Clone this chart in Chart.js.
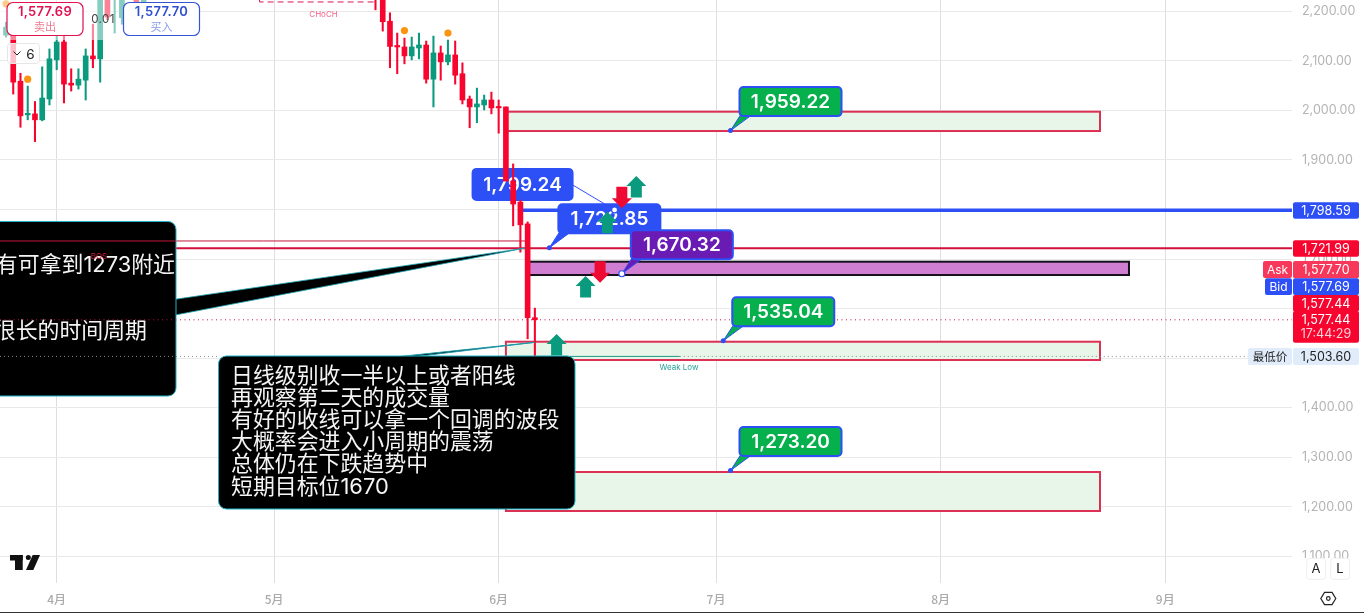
<!DOCTYPE html>
<html>
<head>
<meta charset="utf-8">
<style>
  html, body { margin: 0; padding: 0; background: #fff; overflow: hidden; }
  canvas { display: block; }
</style>
<script src="https://cdn.jsdelivr.net/npm/chart.js@4"></script>
</head>
<body>
<canvas id="priceChart" width="1364" height="613"></canvas>
<script>
// x values are days counted from 1 April
const monthDays = [0, 30, 61, 91, 122, 153];
const monthLabels = ['4月', '5月', '6月', '7月', '8月', '9月'];

const candleDays = [-7, -6, -5, -4, -3, -2, -1, 0, 1, 2, 3, 4, 5, 6, 7, 8, 9, 11, 12,
  44, 45, 46, 47, 48, 49, 50, 51, 52, 53, 54, 55, 56, 57, 58, 59, 60, 61, 62, 63, 64, 65, 66];
const candleOpen = [2152, 2166, 2059, 1991, 1993, 1981, 2023, 2102, 2138, 2055, 2051, 2061, 2110, 2104, 2240, 2230, 2187, 2250, 2217,
  2240, 2230, 2180, 2130, 2128, 2110, 2126, 2132, 2063, 2116, 2098, 2112, 2074, 2023, 2007, 2011, 2021, 2007, 2007, 1857.5, 1815, 1771, 1581.7];
const candleHigh = [2178, 2182, 2075, 2049, 2018, 2088, 2124, 2156, 2156, 2084, 2084, 2124, 2174, 2240, 2250, 2260, 2250, 2260, 2260,
  2250, 2240, 2197, 2156, 2146, 2148, 2156, 2140, 2150, 2130, 2142, 2140, 2096, 2029, 2045, 2031, 2037, 2021, 2007, 1892, 1819, 1775, 1601];
const candleLow = [2148, 2033, 1966, 1981, 1937, 1979, 2011, 2082, 2015, 2039, 2043, 2021, 2086, 2057, 2183, 2156, 2174, 2215, 2215,
  2203, 2160, 2086, 2074, 2094, 2102, 2104, 2055, 2007, 2061, 2092, 2053, 2013, 1965, 1975, 2001, 1993, 1954, 1857.5, 1767, 1714, 1539, 1503.6];
const candleClose = [2168, 2057, 1989, 1993, 1981, 2025, 2104, 2138, 2053, 2051, 2063, 2110, 2104, 2235, 2188.5, 2250, 2240, 2217, 2250,
  2230, 2179, 2129, 2128, 2110, 2128, 2132, 2063, 2116, 2098, 2112, 2071, 2021, 2007, 2013, 2021, 2005, 2005, 1857.5, 1811, 1769, 1581.7, 1577.44];

const dotDays = [-7, -4, 48, 54];
const dotPrices = [2215, 2063, 2161, 2156];

const zoneLeft = [62, 62, 62, 65];
const zoneRight = [144, 144, 144, 148];
const zoneHigh = [1997.4, 1533.2, 1270.3, 1694.7];
const zoneLow = [1958.4, 1496.3, 1191.6, 1667.8];

const calloutValues = [1799.24, 1722.85, 1670.32, 1535.04, 1959.22, 1273.20];
const calloutDays = [77, 68, 78, 92, 93, 93];
const calloutColors = ['#2d50f6', '#2d50f6', '#6a1bb4', '#06b04c', '#06b04c', '#06b04c'];

const arrowDays = [80, 78, 76, 75, 73, 69];
const arrowPrices = [1867.6, 1802.4, 1795.6, 1652.3, 1665.8, 1548.8];
const arrowUp = [true, false, true, false, true, true];

const bluePrice = 1798.59;
const redPrice = 1721.99;
const bosPrice = 1736.5;
const lastPrice = 1577.44;
const lowPrice = 1503.6;
const chochPrice = 2218.8;

const noteOneLines = ['有可拿到1273附近', '', '', '很长的时间周期'];
const noteTwoLines = ['日线级别收一半以上或者阳线', '再观察第二天的成交量', '有好的收线可以拿一个回调的波段', '大概率会进入小周期的震荡', '总体仍在下跌趋势中', '短期目标位1670'];

const Y_MIN = 1046.3;
const Y_MAX = 2222.8;

const UI_FONT = '"Inter", "Noto Sans CJK SC", sans-serif';
const CJK_FONT = '"Noto Sans CJK SC", sans-serif';
const RED = '#f7052f';
const GREEN = '#0a9a7e';
const BLUE = '#2d50f6';
const ZONE_RED = '#dc3155';

const isUp = candleClose.map((c, i) => c >= candleOpen[i]);
const candleColors = isUp.map((up) => (up ? GREEN : RED));

function text(ctx, str, x, y, font, color, align, spacing) {
  ctx.font = font;
  ctx.fillStyle = color;
  ctx.textAlign = align || 'center';
  ctx.textBaseline = 'middle';
  ctx.letterSpacing = spacing || '0px';
  ctx.fillText(str, x, y);
  ctx.letterSpacing = '0px';
}

function roundBox(ctx, x, y, w, h, r, fill, stroke, lineWidth) {
  ctx.beginPath();
  ctx.roundRect(x, y, w, h, r);
  if (fill) {
    ctx.fillStyle = fill;
    ctx.fill();
  }
  if (stroke) {
    ctx.strokeStyle = stroke;
    ctx.lineWidth = lineWidth || 1;
    ctx.stroke();
  }
}

function hLine(ctx, x1, x2, y, color, width, dash) {
  ctx.beginPath();
  ctx.setLineDash(dash || []);
  ctx.strokeStyle = color;
  ctx.lineWidth = width;
  ctx.moveTo(x1, y);
  ctx.lineTo(x2, y);
  ctx.stroke();
  ctx.setLineDash([]);
}

function drawCallout(ctx, i, X, Y) {
  const tipX = X(calloutDays[i]);
  const tipY = Y(calloutValues[i]);
  const color = calloutColors[i];
  const value = calloutValues[i].toLocaleString('en-US', { minimumFractionDigits: 2 });
  const wide = i === 0;
  const left = wide ? tipX - 142 : tipX + 9;
  const top = wide ? tipY - 41 : tipY - 43.5;
  const w = wide ? 100 : 102;
  const h = wide ? 31 : 29;

  if (wide) {
    ctx.beginPath();
    ctx.moveTo(left + w, top + 16);
    ctx.lineTo(tipX, tipY);
    ctx.strokeStyle = BLUE;
    ctx.lineWidth = 1;
    ctx.stroke();
  } else {
    ctx.beginPath();
    ctx.moveTo(left + 1, top + h - 1);
    ctx.lineTo(left + 12, top + h - 1);
    ctx.lineTo(tipX, tipY);
    ctx.closePath();
    ctx.fillStyle = color;
    ctx.fill();
    ctx.strokeStyle = BLUE;
    ctx.lineWidth = 1;
    ctx.stroke();
  }
  roundBox(ctx, left, top, w, h, 4, color, BLUE, 2);
  text(ctx, value, left + w / 2, top + h / 2 + 0.5, '600 19px ' + UI_FONT, '#fff');

  ctx.beginPath();
  ctx.arc(tipX, tipY, wide || i === 2 ? 3 : 2.5, 0, Math.PI * 2);
  ctx.fillStyle = wide || i === 2 ? '#fff' : BLUE;
  ctx.fill();
  if (wide || i === 2) {
    ctx.strokeStyle = BLUE;
    ctx.lineWidth = 1.2;
    ctx.stroke();
  }
}

function drawArrow(ctx, x, tipY, up) {
  const s = up ? 1 : -1;
  ctx.beginPath();
  ctx.moveTo(x, tipY);
  ctx.lineTo(x + 10, tipY + s * 10);
  ctx.lineTo(x + 5.5, tipY + s * 10);
  ctx.lineTo(x + 5.5, tipY + s * 21.5);
  ctx.lineTo(x - 5.5, tipY + s * 21.5);
  ctx.lineTo(x - 5.5, tipY + s * 10);
  ctx.lineTo(x - 10, tipY + s * 10);
  ctx.closePath();
  ctx.fillStyle = up ? GREEN : '#ee0a33';
  ctx.fill();
}

function priceTag(ctx, y, h, fill, str, color) {
  roundBox(ctx, 1293, y, 66, h, 2, fill);
  text(ctx, str, 1326, y + h / 2 + 0.5, '12.5px ' + UI_FONT, color || '#fff', 'center');
}

const overlayPlugin = {
  id: 'overlay',
  beforeDatasetsDraw(chart) {
    const ctx = chart.ctx;
    const X = (v) => chart.scales.x.getPixelForValue(v);
    const Y = (v) => chart.scales.y.getPixelForValue(v);
    const right = chart.chartArea.right;

    // chart drawings that sit under the candles
    hLine(ctx, X(64), right, Y(bluePrice), BLUE, 3.5);
    hLine(ctx, 0, right, Y(redPrice), '#d30f3c', 2);
    hLine(ctx, 0, X(65), Y(bosPrice), '#c2183c', 1);

    zoneLeft.forEach((d, i) => {
      const x = X(d);
      const w = X(zoneRight[i]) - x;
      const y = Y(zoneHigh[i]);
      const h = Y(zoneLow[i]) - y;
      const pink = i === 3;
      ctx.fillStyle = pink ? '#d07ed2' : '#e8f5e9';
      ctx.fillRect(x, y, w, h);
      ctx.strokeStyle = pink ? '#15101a' : ZONE_RED;
      ctx.lineWidth = 2;
      ctx.strokeRect(x, y, w, h);
    });

    hLine(ctx, X(66), X(86), Y(lowPrice), '#1f9a8a', 1);
    hLine(ctx, X(86), 1248, Y(lowPrice), '#8a8a8a', 1, [1, 3]);
    hLine(ctx, 0, right, Y(lastPrice), '#c8103c', 1, [1, 3.5]);
    text(ctx, 'Weak Low', 679, 368, '8px ' + UI_FONT, '#2aa198');

    // CHoCH bracket running off the top edge
    ctx.beginPath();
    ctx.setLineDash([6, 4]);
    ctx.moveTo(X(28), 0);
    ctx.lineTo(X(28), Y(chochPrice));
    ctx.lineTo(X(44), Y(chochPrice));
    ctx.strokeStyle = '#d6185a';
    ctx.lineWidth = 1;
    ctx.stroke();
    ctx.setLineDash([]);
    text(ctx, 'CHoCH', 323.5, 14.5, '8px ' + UI_FONT, '#f0608a');

    [1, 2, 3, 4, 5, 0].forEach((i) => drawCallout(ctx, i, X, Y));
  },
  afterDatasetsDraw(chart) {
    const ctx = chart.ctx;
    const X = (v) => chart.scales.x.getPixelForValue(v);
    const Y = (v) => chart.scales.y.getPixelForValue(v);

    arrowDays.forEach((d, i) => drawArrow(ctx, X(d), Y(arrowPrices[i]), arrowUp[i]));

    // the toolbar washes out whatever is behind it
    ctx.fillStyle = 'rgba(255,255,255,0.5)';
    ctx.fillRect(0, 0, 150, 40);

    // left note with its pointer
    const tipOneX = X(64.6);
    const tipOneY = Y(redPrice);
    ctx.beginPath();
    ctx.moveTo(170, 300);
    ctx.lineTo(tipOneX, tipOneY);
    ctx.lineTo(170, 316);
    ctx.closePath();
    ctx.fillStyle = '#000';
    ctx.fill();
    ctx.strokeStyle = '#1fa7b5';
    ctx.lineWidth = 0.8;
    ctx.stroke();
    roundBox(ctx, -20, 221.5, 196, 174.5, 8, '#000', '#1fb4c4', 1);
    noteOneLines.forEach((line, i) => {
      const endX = i === 0 ? 175 : 147;
      text(ctx, line, endX, 265 + i * 22, '21.9px ' + UI_FONT, '#f4f4f4', 'right');
    });
    hLine(ctx, 0, 176, Y(bosPrice), '#c2183c', 1);
    text(ctx, 'BOS', 99, 257, '8px ' + UI_FONT, '#d01a3a');
    hLine(ctx, 0, 176, Y(lastPrice), '#c8103c', 1, [1, 3.5]);
    hLine(ctx, 0, 218, Y(lowPrice), '#8a8a8a', 1, [1, 3]);

    // lower note with its pointer
    const tipTwoX = X(66);
    const tipTwoY = Y(1532);
    ctx.beginPath();
    ctx.moveTo(395, 357);
    ctx.lineTo(tipTwoX, tipTwoY);
    ctx.lineTo(412, 357);
    ctx.closePath();
    ctx.fillStyle = '#000';
    ctx.fill();
    ctx.strokeStyle = '#1f9aa8';
    ctx.lineWidth = 1;
    ctx.stroke();
    roundBox(ctx, 218.5, 356, 356.5, 153, 8, '#000', '#1fb4c4', 1);
    noteTwoLines.forEach((line, i) => {
      text(ctx, line, 231, 376.5 + i * 22.1, '21.9px ' + UI_FONT, '#f4f4f4', 'left');
    });

    // sell and buy tickets
    roundBox(ctx, 7, 2.5, 76, 33, 6, '#fff', '#e0124f', 1.2);
    text(ctx, '1,577.69', 45, 12.5, '600 13px ' + UI_FONT, '#e0124f', 'center', '0.3px');
    text(ctx, '卖出', 45, 26.5, '11px ' + CJK_FONT, '#ec7b93');
    roundBox(ctx, 123.5, 2.5, 76, 33, 6, '#fff', '#3355d6', 1.2);
    text(ctx, '1,577.70', 161.5, 12.5, '600 13px ' + UI_FONT, '#2d4fd0', 'center', '0.3px');
    text(ctx, '买入', 161.5, 26.5, '11px ' + CJK_FONT, '#8a9ce4');
    text(ctx, '0.01', 103, 19.5, '11.5px ' + UI_FONT, '#444', 'center', '0.4px');

    // collapsed indicator button
    roundBox(ctx, 7.5, 43.5, 32, 20, 3, 'rgba(255,255,255,0.75)', '#e6e6e6', 1);
    ctx.beginPath();
    ctx.moveTo(13.5, 51.5);
    ctx.lineTo(17, 55);
    ctx.lineTo(20.5, 51.5);
    ctx.strokeStyle = '#222';
    ctx.lineWidth = 1;
    ctx.stroke();
    text(ctx, '6', 30.5, 54.5, '13.5px ' + UI_FONT, '#222');

    // logo
    ctx.fillStyle = '#111';
    ctx.fillRect(10, 555, 12.7, 5.5);
    ctx.fillRect(15, 555, 7.7, 15);
    ctx.beginPath();
    ctx.arc(28.3, 557.5, 2.5, 0, Math.PI * 2);
    ctx.fill();
    ctx.beginPath();
    ctx.moveTo(32.7, 555);
    ctx.lineTo(40, 555);
    ctx.lineTo(33.3, 570);
    ctx.lineTo(26, 570);
    ctx.closePath();
    ctx.fill();

    // price axis tags
    priceTag(ctx, Y(bluePrice) - 8, 16.5, BLUE, '1,798.59');
    priceTag(ctx, Y(redPrice) - 8, 16.5, RED, '1,721.99');
    roundBox(ctx, 1263, 261, 29, 17, 2, '#f8385a');
    text(ctx, 'Ask', 1277.5, 270, '12px ' + UI_FONT, '#fff');
    priceTag(ctx, 261, 17.3, '#f8385a', '1,577.70');
    roundBox(ctx, 1265, 278.3, 27, 16.7, 2, BLUE);
    text(ctx, 'Bid', 1278.5, 287, '12px ' + UI_FONT, '#fff');
    priceTag(ctx, 278.3, 16.7, BLUE, '1,577.69');
    priceTag(ctx, 295, 16.7, RED, '1,577.44');
    roundBox(ctx, 1293, 311, 66, 31.7, 2, RED);
    text(ctx, '1,577.44', 1326, 319.8, '12.5px ' + UI_FONT, '#fff', 'center');
    text(ctx, '17:44:29', 1326, 334.3, '12.5px ' + UI_FONT, '#ffd0d8', 'center');
    roundBox(ctx, 1248, Y(lowPrice) - 8.5, 44, 17, 2, '#e0ecfa');
    text(ctx, '最低价', 1270, Y(lowPrice) + 0.3, '11.5px ' + CJK_FONT, '#222');
    roundBox(ctx, 1293, Y(lowPrice) - 8.5, 66, 17, 2, '#e0ecfa');
    text(ctx, '1,503.60', 1326, Y(lowPrice) + 0.5, '12.5px ' + UI_FONT, '#222', 'center');

    // auto and log buttons, settings hexagon
    ctx.fillStyle = '#fff';
    ctx.fillRect(1296, 558, 68, 28);
    roundBox(ctx, 1306.7, 558.3, 19, 21, 3, '#fff', '#efefef', 1);
    roundBox(ctx, 1330.7, 558.3, 19, 21, 3, '#fff', '#efefef', 1);
    text(ctx, 'A', 1316, 569.5, '13px ' + UI_FONT, '#222');
    text(ctx, 'L', 1340, 569.5, '13px ' + UI_FONT, '#222');
    ctx.beginPath();
    for (let k = 0; k < 6; k++) {
      const a = (Math.PI / 3) * k;
      const px = 1328.3 + 7.5 * Math.cos(a);
      const py = 598.5 + 7 * Math.sin(a);
      if (k === 0) ctx.moveTo(px, py);
      else ctx.lineTo(px, py);
    }
    ctx.closePath();
    ctx.strokeStyle = '#222';
    ctx.lineWidth = 1.2;
    ctx.stroke();
    ctx.beginPath();
    ctx.arc(1328.3, 598.5, 1.8, 0, Math.PI * 2);
    ctx.stroke();

    hLine(ctx, 0, 1364, 612.5, '#333', 1);
  },
};

const wickData = candleDays.map((d, i) => ({ x: d, y: [candleLow[i], candleHigh[i]] }));
const bodyData = candleDays.map((d, i) => ({ x: d, y: [candleOpen[i], candleClose[i]] }));
const dotData = dotDays.map((d, i) => ({ x: d, y: dotPrices[i] }));

new Chart(document.getElementById('priceChart'), {
  type: 'bar',
  data: {
    datasets: [
      { label: 'Wick', data: wickData, backgroundColor: candleColors, barThickness: 1.4, grouped: false, order: 3 },
      { label: 'Body', data: bodyData, backgroundColor: candleColors, barThickness: 5, minBarLength: 1.5, grouped: false, order: 2 },
      { type: 'scatter', label: 'Marks', data: dotData, backgroundColor: '#fb9411', borderWidth: 0, pointRadius: 3.6, order: 1 },
    ],
  },
  options: {
    responsive: false,
    animation: false,
    events: [],
    layout: { autoPadding: false, padding: 0 },
    plugins: { legend: { display: false }, tooltip: { enabled: false } },
    scales: {
      x: {
        type: 'linear',
        offset: false,
        min: -7.826,
        max: 170.5,
        grid: { color: '#dedede', offset: false, drawTicks: false },
        border: { display: false },
        afterBuildTicks(scale) {
          scale.ticks = monthDays.map((value) => ({ value }));
        },
        afterFit(scale) {
          scale.height = 30;
          scale.paddingLeft = 0;
          scale.paddingRight = 0;
          scale.paddingTop = 0;
          scale.paddingBottom = 0;
        },
        ticks: {
          padding: 9,
          autoSkip: false,
          maxRotation: 0,
          color: '#aaaaaa',
          font: { family: CJK_FONT, size: 12, weight: '500' },
          callback: (value) => monthLabels[monthDays.indexOf(value)],
        },
      },
      y: {
        type: 'linear',
        position: 'right',
        min: Y_MIN,
        max: Y_MAX,
        grid: { color: '#e9e9e9', drawTicks: false },
        border: { display: false },
        afterBuildTicks(scale) {
          scale.ticks = scale.ticks.filter((t) => t.value >= Y_MIN && t.value <= Y_MAX);
        },
        // the axis keeps its fixed gutter and asks the layout for no margin above the plot
        afterFit(scale) {
          scale.width = 72;
          scale.paddingLeft = 0;
          scale.paddingRight = 0;
          scale.paddingTop = 0;
          scale.paddingBottom = 0;
        },
        ticks: {
          stepSize: 100,
          includeBounds: false,
          padding: 10,
          color: '#b4b4b4',
          font: { family: UI_FONT, size: 12.5 },
          callback: (value) => value.toLocaleString('en-US', { minimumFractionDigits: 2 }),
        },
      },
    },
  },
  plugins: [overlayPlugin],
});
</script>
</body>
</html>
